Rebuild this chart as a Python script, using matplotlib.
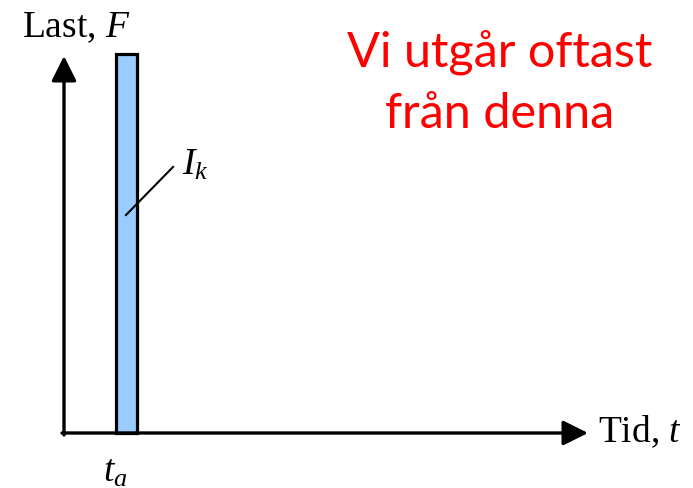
# coding: utf-8

import matplotlib.pyplot as plt

# Impulse load: short pulse starting at t_a
t_a = 52          # pulse start
dt = 21           # pulse duration
F_k = 379         # pulse height
t_max = 524       # end of time axis
F_max = 377       # end of load axis

note_lines = ['Vi utgår oftast', 'från denna']

plt.rcParams['font.family'] = 'Liberation Serif'
plt.rcParams['mathtext.fontset'] = 'custom'
plt.rcParams['mathtext.rm'] = 'Liberation Serif'
plt.rcParams['mathtext.it'] = 'Liberation Serif:italic'

# Construct figure
fig = plt.figure(figsize=(6.93, 4.89), dpi=100)
ax = fig.add_axes([0, 0, 1, 1])
ax.set_xlim(-64, 629)
ax.set_ylim(-55, 434)
ax.axis('off')

# Pulse
ax.bar(t_a, F_k, width=dt, align='edge', color='#99CCFF',
       edgecolor='black', linewidth=2.3, zorder=2)

# Axes with arrows
arrow = dict(arrowstyle='-|>,head_length=0.4,head_width=0.2', lw=2.4,
             color='black', mutation_scale=38, shrinkA=0, shrinkB=0)
ax.annotate('', xy=(t_max, 0), xytext=(-2, 0), arrowprops=arrow, zorder=3)
ax.annotate('', xy=(0, F_max), xytext=(0, -2), arrowprops=arrow, zorder=3)

# Labels
ax.text(-42, 397, 'Last, $F$', fontsize=27, va='baseline', ha='left')
ax.text(534, -8, 'Tid, $t$', fontsize=27, va='baseline', ha='left')
ax.text(39, -48, '$t_a$', fontsize=27, va='baseline', ha='left')
ax.text(118, 259, '$I_k$', fontsize=27, va='baseline', ha='left')
ax.plot([62, 109], [218, 266], color='black', lw=1.5, zorder=3)

# Note in red
for i, line in enumerate(note_lines):
    ax.text(436, 367 - 61 * i, line, fontsize=35, color='#FF0000',
            family='Lato', ha='center', va='baseline')

# Save figure
plt.savefig('out.png', dpi=100)
